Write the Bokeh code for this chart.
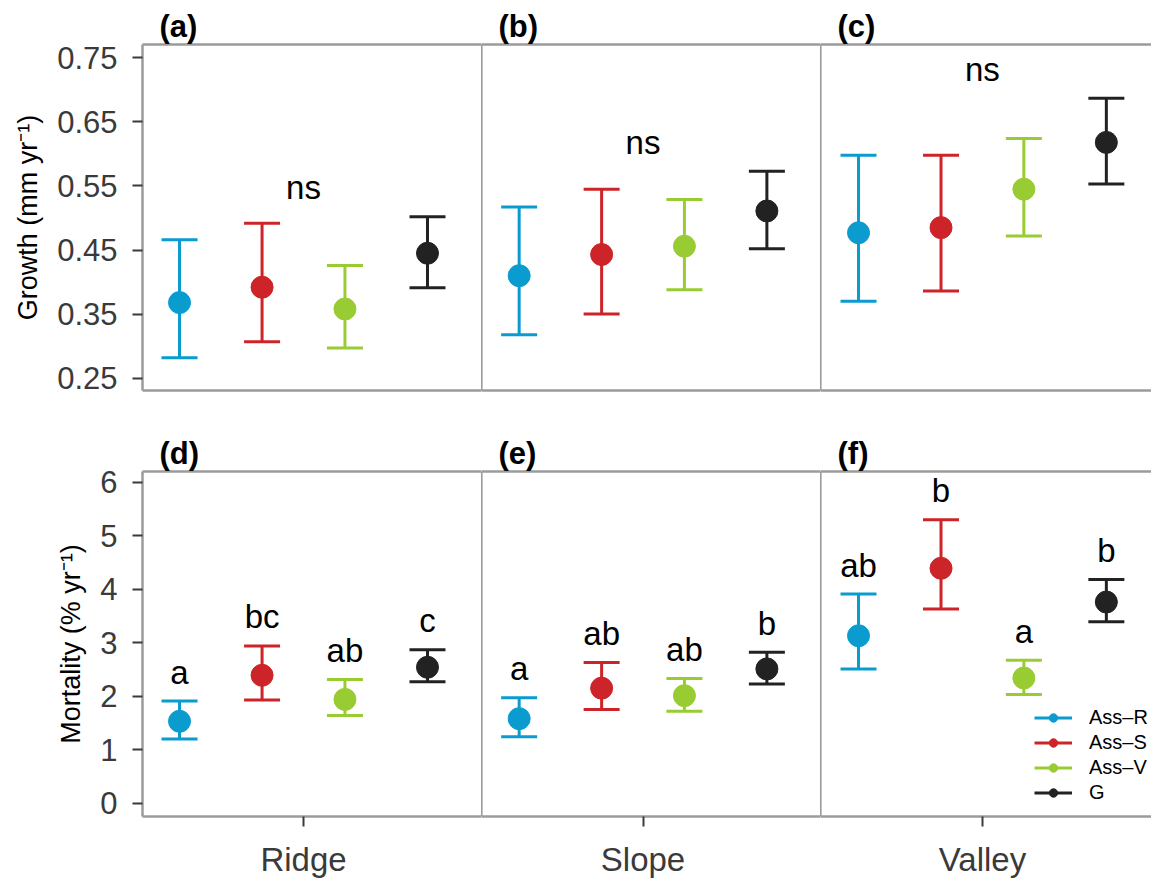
import numpy as np
from bokeh.plotting import figure
from bokeh.models import (Range1d, FixedTicker, LinearAxis, Whisker, TeeHead,
                          ColumnDataSource, Legend, LegendItem,
                          PrintfTickFormatter)
from bokeh.layouts import column, row
from bokeh.core.properties import value
from bokeh.embed import file_html
from bokeh.resources import INLINE

# ---------------- data ----------------
sites = ["Ridge", "Slope", "Valley"]
groups = ["Ass–R", "Ass–S", "Ass–V", "G"]
colors = ["#0A9BCF", "#CC2428", "#99CC33", "#222222"]

# growth (mm/yr): rows = groups, cols = sites
growth_mean = [[0.368, 0.410, 0.477],
               [0.392, 0.443, 0.485],
               [0.358, 0.456, 0.545],
               [0.445, 0.511, 0.618]]
growth_low = [[0.282, 0.318, 0.370],
              [0.307, 0.350, 0.386],
              [0.297, 0.388, 0.472],
              [0.391, 0.452, 0.553]]
growth_up = [[0.466, 0.517, 0.598],
             [0.492, 0.545, 0.598],
             [0.426, 0.529, 0.624],
             [0.502, 0.573, 0.687]]
growth_sig = ["ns", "ns", "ns"]

# mortality (%/yr)
mort_mean = [[1.53, 1.58, 3.13],
             [2.39, 2.15, 4.39],
             [1.94, 2.01, 2.34],
             [2.54, 2.51, 3.76]]
mort_low = [[1.20, 1.24, 2.51],
            [1.93, 1.75, 3.63],
            [1.64, 1.72, 2.03],
            [2.27, 2.23, 3.39]]
mort_up = [[1.91, 1.97, 3.91],
           [2.94, 2.63, 5.30],
           [2.31, 2.33, 2.67],
           [2.87, 2.82, 4.18]]
mort_letters = [["a", "a", "ab"],
                ["bc", "ab", "b"],
                ["ab", "ab", "a"],
                ["c", "b", "b"]]

growth_ticks = [0.25, 0.35, 0.45, 0.55, 0.65, 0.75]
mort_ticks = [0, 1, 2, 3, 4, 5, 6]
top_tags = ["(a)", "(b)", "(c)"]
bottom_tags = ["(d)", "(e)", "(f)"]

# ---------------- layout constants ----------------
FONT = "Liberation Sans"
site_pos = [1.0, 2.0, 3.0]
dodge = [-0.365, -0.122, 0.122, 0.365]
facet_x = [(0.526, 1.524), (1.524, 2.523), (2.523, 3.498)]
facet_w = [481, 339, 331]
BORDER = "#9B9B9B"
TICKC = "#3A3A3A"


def stripped_axis(width):
    ax = LinearAxis(ticker=FixedTicker(ticks=[]))
    ax.axis_line_color = BORDER
    ax.axis_line_width = width
    ax.major_tick_line_color = None
    ax.minor_tick_line_color = None
    ax.major_tick_out = 0
    ax.major_tick_in = 0
    ax.major_label_standoff = 0
    ax.major_label_text_font_size = "0px"
    return ax


def facet(si, height, yr, top, bottom, tag):
    first = si == 0
    p = figure(width=facet_w[si], height=height, output_backend="svg",
               toolbar_location=None,
               x_range=Range1d(*facet_x[si]), y_range=yr,
               x_axis_location=None, y_axis_location=None,
               min_border_left=142 if first else 0, min_border_right=0,
               min_border_top=top, min_border_bottom=bottom,
               title=tag)
    p.outline_line_color = None
    p.background_fill_color = "white"
    p.border_fill_color = "white"
    for g in p.grid:
        g.visible = False
    p.title.align = "left"
    p.title.offset = 17
    p.title.standoff = 1
    p.title.text_font = FONT
    p.title.text_font_size = "31px"
    p.title.text_font_style = "bold"
    p.title.text_color = "black"
    p.add_layout(stripped_axis(2.5), "above")
    if not first:
        p.add_layout(stripped_axis(2.2), "left")
    return p


def left_axis(p, ticks, fmt, label):
    ax = LinearAxis(ticker=FixedTicker(ticks=ticks),
                    formatter=PrintfTickFormatter(format=fmt))
    ax.axis_label = label
    ax.axis_label_text_font = FONT
    ax.axis_label_text_font_size = "27px"
    ax.axis_label_text_font_style = "normal"
    ax.axis_label_text_color = "black"
    ax.axis_label_standoff = 11
    ax.axis_line_color = BORDER
    ax.axis_line_width = 2.5
    ax.major_tick_in = 0
    ax.major_tick_out = 10
    ax.major_tick_line_color = TICKC
    ax.major_tick_line_width = 2
    ax.minor_tick_line_color = None
    ax.major_label_text_font = FONT
    ax.major_label_text_font_size = "31px"
    ax.major_label_text_color = TICKC
    ax.major_label_standoff = 15
    p.add_layout(ax, "left")


def draw_points(p, si, mean, low, up):
    for gi in range(len(groups)):
        src = ColumnDataSource(dict(x=[site_pos[si] + dodge[gi]],
                                    m=[mean[gi][si]], lo=[low[gi][si]],
                                    hi=[up[gi][si]]))
        c = colors[gi]
        w = Whisker(base="x", upper="hi", lower="lo", source=src,
                    dimension="height", line_color=c, line_width=3,
                    upper_head=TeeHead(size=36, line_color=c, line_width=3),
                    lower_head=TeeHead(size=36, line_color=c, line_width=3))
        p.add_layout(w)
        p.scatter(x="x", y="m", source=src, size=22, fill_color=c,
                  line_color=c)


def letters(p, xs, ys, txt):
    p.text(x=xs, y=ys, text=txt, y_offset=-29,
           text_font=value(FONT), text_font_size="33px", text_color="black",
           text_align="center", text_baseline="middle")


# ---------------- top row: growth ----------------
top_row = []
for si in range(3):
    yr = Range1d(0.2308, 0.7708)
    p = facet(si, 410, yr, 44, 20, top_tags[si])
    p.add_layout(stripped_axis(2.5), "below")
    if si == 0:
        left_axis(p, growth_ticks, "%.2f", "Growth (mm yr⁻¹)")
    draw_points(p, si, growth_mean, growth_low, growth_up)
    top_y = max(growth_up[gi][si] for gi in range(len(groups)))
    letters(p, [site_pos[si]], [top_y], [growth_sig[si]])
    top_row.append(p)

# ---------------- bottom row: mortality ----------------
bottom_row = []
for si in range(3):
    yr = Range1d(-0.249, 6.2)
    p = facet(si, 470, yr, 61, 64, bottom_tags[si])
    bx = LinearAxis(ticker=FixedTicker(ticks=[site_pos[si]]),
                    major_label_overrides={site_pos[si]: sites[si]})
    bx.axis_line_color = BORDER
    bx.axis_line_width = 2.5
    bx.major_tick_in = 0
    bx.major_tick_out = 10
    bx.major_tick_line_color = TICKC
    bx.major_tick_line_width = 2
    bx.minor_tick_line_color = None
    bx.major_label_text_font = FONT
    bx.major_label_text_font_size = "33px"
    bx.major_label_text_color = TICKC
    bx.major_label_standoff = 14
    p.add_layout(bx, "below")
    if si == 0:
        left_axis(p, mort_ticks, "%d", "Mortality (% yr⁻¹)")
    draw_points(p, si, mort_mean, mort_low, mort_up)
    letters(p, [site_pos[si] + d for d in dodge],
            [mort_up[gi][si] for gi in range(len(groups))],
            [mort_letters[gi][si] for gi in range(len(groups))])
    bottom_row.append(p)

# legend in panel (f)
pf = bottom_row[2]
items = []
for gi in range(len(groups)):
    c = colors[gi]
    rl = pf.line(x=[np.nan], y=[np.nan], line_color=c, line_width=3)
    rs = pf.scatter(x=[np.nan], y=[np.nan], size=7, fill_color=c,
                    line_color=c)
    items.append(LegendItem(label=groups[gi], renderers=[rl, rs]))
leg = Legend(items=items, location=(214, 12), padding=0, margin=0,
             spacing=2, glyph_width=38, glyph_height=21, label_height=21,
             label_standoff=17, label_text_font=FONT,
             label_text_font_size="20px", label_text_color="black",
             border_line_color=None, background_fill_alpha=0)
pf.add_layout(leg)

layout = column(row(*top_row, spacing=0), row(*bottom_row, spacing=0),
                spacing=0)
open("out.html", "w").write(file_html(layout, INLINE))
